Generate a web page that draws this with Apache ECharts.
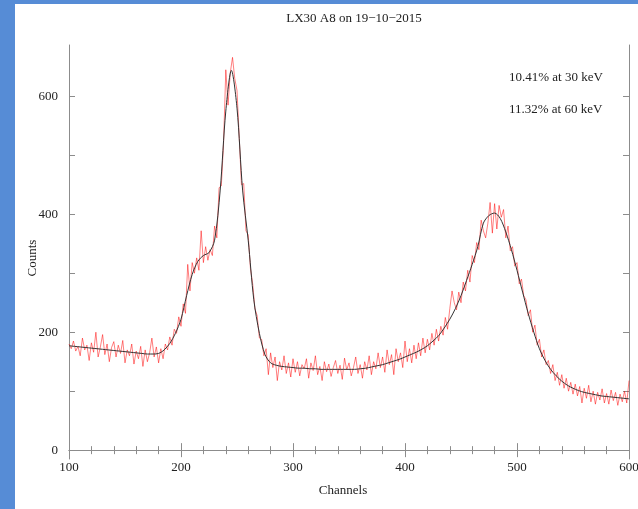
<!DOCTYPE html>
<html>
<head>
<meta charset="utf-8">
<script src="https://cdn.jsdelivr.net/npm/echarts@6/dist/echarts.min.js"></script>
<style>
  html, body { margin: 0; padding: 0; }
  body { width: 638px; height: 509px; background: #568cd6; position: relative; overflow: hidden; }
  #chart { position: absolute; left: 15px; top: 4px; width: 623px; height: 505px; background: #fff; }
</style>
</head>
<body>
<div id="chart"></div>
<script>
'use strict';

// ── Data ──────────────────────────────────────────────────────────────────────
const TITLE = 'LX30 A8 on 19\u221210\u22122015';
const NOTES = ['10.41% at 30 keV', '11.32% at 60 keV'];

// measured spectrum: channels 100..600, every 2nd channel
const specStart = 100, specStep = 2;
const specCounts = [
  180, 172, 185, 168, 176, 160, 190, 170, 178, 152, 182, 166, 200, 158, 175, 196, 162, 180, 150, 174,
  184, 158, 178, 164, 186, 148, 170, 160, 180, 146, 168, 155, 176, 142, 170, 150, 165, 190, 158, 175,
  148, 172, 155, 180, 170, 192, 178, 205, 198, 226, 210, 248, 232, 315, 270, 318, 300, 326, 305, 372,
  318, 345, 322, 340, 330, 380, 360, 445, 448, 520, 645, 585, 640, 666, 630, 610, 530, 450, 452, 372,
  365, 308, 282, 240, 228, 190, 188, 160, 172, 128, 165, 140, 158, 118, 150, 136, 160, 130, 148, 124,
  155, 132, 150, 126, 145, 138, 155, 122, 148, 135, 160, 128, 142, 118, 150, 133, 146, 125, 140, 152,
  130, 144, 120, 156, 136, 148, 126, 140, 158, 130, 145, 122, 150, 136, 160, 128, 150, 138, 165, 140,
  158, 132, 170, 145, 162, 128, 172, 150, 165, 140, 185, 150, 172, 148, 178, 155, 182, 160, 190, 165,
  188, 170, 198, 178, 205, 185, 210, 195, 225, 205, 240, 270, 250, 238, 268, 250, 285, 270, 305, 285,
  330, 318, 352, 340, 390, 372, 360, 385, 420, 368, 418, 375, 415, 395, 408, 360, 380, 338, 345, 312,
  318, 282, 290, 262, 255, 228, 238, 200, 212, 178, 188, 158, 170, 145, 152, 130, 145, 118, 132, 110,
  128, 105, 122, 100, 115, 95, 112, 92, 108, 80, 105, 88, 110, 82, 100, 78, 98, 85, 104, 80,
  96, 78, 102, 84, 98, 76, 95, 82, 100, 80, 118
];

// fitted curve: channels 100..600, every 5th channel
const fitStart = 100, fitStep = 5;
const fitCounts = [
  177, 176, 175, 174, 173, 172, 171, 170, 169, 168, 167, 166, 165, 164, 163, 163, 164, 170, 181, 198,
  222, 262, 298, 320, 330, 335, 356, 441, 575, 644, 580, 441, 356, 255, 198, 162, 148, 144, 142, 141,
  140, 139, 139, 138, 138, 137, 137, 137, 137, 137, 137, 137, 138, 139, 141, 143, 145, 148, 151, 154,
  158, 162, 166, 171, 177, 185, 194, 207, 222, 240, 262, 288, 315, 345, 385, 398, 402, 393, 370, 340,
  305, 268, 232, 200, 172, 152, 137, 126, 117, 110, 105, 101, 98, 96, 94, 92, 91, 90, 89, 88,
  87
];

const xTicksMajor = [100, 200, 300, 400, 500, 600];
const yTicks      = [0, 100, 200, 300, 400, 500, 600];
const yLabels     = [0, 200, 400, 600];

// ── Build series data ─────────────────────────────────────────────────────────
const specData = specCounts.map((v, i) => [specStart + i * specStep, v]);
const fitData  = fitCounts.map((v, i) => [fitStart + i * fitStep, v]);

const FONT   = 'Liberation Serif, DejaVu Serif, serif';
const FRAME  = '#8c8c8c';

const chart = echarts.init(document.getElementById('chart'), null, { renderer: 'canvas' });

const xCommon = {
  type: 'value', min: 100, max: 600, interval: 100,
  axisLine:  { show: true, lineStyle: { color: FRAME, width: 1 } },
  axisTick:  { show: true, inside: true, length: 7, lineStyle: { color: FRAME } },
  minorTick: { show: true, splitNumber: 5, length: 4, lineStyle: { color: FRAME } },
  splitLine: { show: false },
};
const yCommon = {
  type: 'value', min: -15, max: 687,
  axisLine:  { show: true, lineStyle: { color: FRAME, width: 1 } },
  axisTick:  { show: true, inside: true, length: 6, customValues: yTicks, lineStyle: { color: FRAME } },
  splitLine: { show: false },
};

chart.setOption({
  animation: false,
  backgroundColor: '#fff',
  title: {
    text: TITLE, left: 334, top: 3, textAlign: 'center',
    textStyle: { fontFamily: FONT, fontSize: 13, fontWeight: 'normal', color: '#222' },
  },
  grid: { left: 54, right: 9, top: 41, bottom: 50, containLabel: false, outerBoundsMode: 'none' },
  xAxis: [
    Object.assign({}, xCommon, {
      position: 'bottom',
      name: 'Channels', nameLocation: 'middle', nameGap: 25,
      nameTextStyle: { fontFamily: FONT, fontSize: 13, color: '#222', padding: [0, 12, 0, 0] },
      axisLabel: { show: true, margin: 2, fontFamily: FONT, fontSize: 13, color: '#222',
                   customValues: xTicksMajor },
    }),
    Object.assign({}, xCommon, { position: 'top', axisLabel: { show: false } }),
  ],
  yAxis: [
    Object.assign({}, yCommon, {
      position: 'left',
      name: 'Counts', nameLocation: 'middle', nameGap: 30, nameRotate: 90, nameMoveOverlap: false,
      nameTextStyle: { fontFamily: FONT, fontSize: 13, color: '#222', padding: [0, 12, 0, 0] },
      axisLabel: { show: true, margin: 11, fontFamily: FONT, fontSize: 13, color: '#222',
                   customValues: yLabels },
    }),
    Object.assign({}, yCommon, { position: 'right', axisLabel: { show: false } }),
  ],
  series: [
    {
      type: 'line', data: specData, xAxisIndex: 0, yAxisIndex: 0,
      showSymbol: false, symbol: 'none',
      lineStyle: { color: 'rgba(255,0,0,0.5)', width: 1 },
      z: 2,
    },
    {
      type: 'line', data: fitData, xAxisIndex: 0, yAxisIndex: 0,
      showSymbol: false, symbol: 'none', smooth: 0.3,
      lineStyle: { color: '#333', width: 1 },
      z: 3,
    },
  ],
  graphic: NOTES.map((t, i) => ({
    type: 'text', left: 494, top: 67 + i * 32,
    style: { text: t, font: `13px ${FONT}`, fill: '#222' },
  })),
});
</script>
</body>
</html>
